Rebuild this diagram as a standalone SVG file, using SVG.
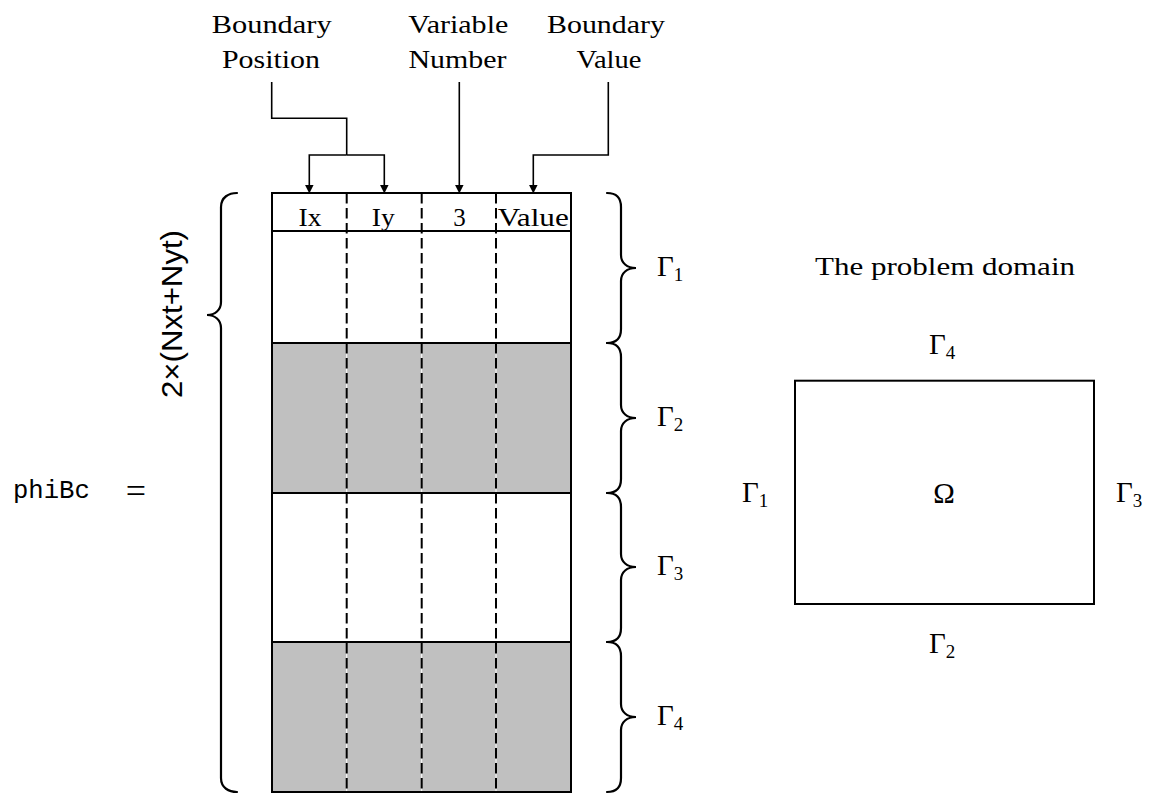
<svg xmlns="http://www.w3.org/2000/svg" width="1149" height="795" viewBox="0 0 1149 795">
<style>
.serif{font-family:"Liberation Serif","DejaVu Serif",serif;fill:#000}
.lbl{font-size:26px}
.hdr{font-size:25px}
.gam{font-size:29px}
.sub{font-size:19px}
.mono{font-family:"Liberation Mono","DejaVu Sans Mono",monospace;font-size:25.6px}
.sans{font-family:"Liberation Sans","DejaVu Sans",sans-serif;font-size:30px}
.frame{fill:none;stroke:#000;stroke-width:2}
.gray{fill:#c0c0c0;stroke:none}
.dash{stroke:#000;stroke-width:2;stroke-dasharray:10.5 4.5}
.wline{stroke:#fff;stroke-width:1}
.brace{fill:none;stroke:#000;stroke-width:2.2;stroke-linecap:round}
.conn{fill:none;stroke:#000;stroke-width:1.6}
</style>
<defs>
<marker id="arr" markerUnits="userSpaceOnUse" markerWidth="10" markerHeight="10" viewBox="0 -4 8 8" refX="1" refY="0" orient="auto">
<path d="M0,-3.5 L7,0 L0,3.5 Z" fill="#000"/>
</marker>
</defs>
<rect width="1149" height="795" fill="#fff"/>

<g id="labels-top">
<text class="serif lbl" x="271.7" y="33" text-anchor="middle" textLength="120" lengthAdjust="spacingAndGlyphs">Boundary</text>
<text class="serif lbl" x="271" y="68" text-anchor="middle" textLength="98" lengthAdjust="spacingAndGlyphs">Position</text>
<text class="serif lbl" x="458.3" y="33" text-anchor="middle" textLength="100" lengthAdjust="spacingAndGlyphs">Variable</text>
<text class="serif lbl" x="457.5" y="68" text-anchor="middle" textLength="98" lengthAdjust="spacingAndGlyphs">Number</text>
<text class="serif lbl" x="606" y="33" text-anchor="middle" textLength="118" lengthAdjust="spacingAndGlyphs">Boundary</text>
<text class="serif lbl" x="609" y="68" text-anchor="middle" textLength="65" lengthAdjust="spacingAndGlyphs">Value</text>
</g>

<g id="connectors">
<path class="conn" d="M271.7,82 V118.3 H346.7 V155"/>
<path class="conn" d="M346.7,155 H309.3 V186" marker-end="url(#arr)"/>
<path class="conn" d="M346.7,155 H384.3 V186" marker-end="url(#arr)"/>
<path class="conn" d="M459.3,82 V186" marker-end="url(#arr)"/>
<path class="conn" d="M608.3,82 V155 H533.3 V186" marker-end="url(#arr)"/>
</g>

<g id="table">
<rect class="gray" x="272" y="343" width="299" height="150"/>
<rect class="gray" x="272" y="642" width="299" height="150"/>
<line class="wline" x1="346.7" y1="193" x2="346.7" y2="792"/>
<line class="wline" x1="421.7" y1="193" x2="421.7" y2="792"/>
<line class="wline" x1="496" y1="193" x2="496" y2="792"/>
<line class="dash" x1="346.7" y1="193" x2="346.7" y2="792"/>
<line class="dash" x1="421.7" y1="193" x2="421.7" y2="792"/>
<line class="dash" x1="496" y1="193" x2="496" y2="792"/>
<line class="frame" x1="272" y1="231" x2="571" y2="231"/>
<line class="frame" x1="272" y1="343" x2="571" y2="343"/>
<line class="frame" x1="272" y1="493" x2="571" y2="493"/>
<line class="frame" x1="272" y1="642" x2="571" y2="642"/>
<rect class="frame" x="272" y="193" width="299" height="599"/>
<text class="serif hdr" x="310" y="226" text-anchor="middle" textLength="23" lengthAdjust="spacingAndGlyphs">Ix</text>
<text class="serif hdr" x="383.3" y="226" text-anchor="middle" textLength="23" lengthAdjust="spacingAndGlyphs">Iy</text>
<text class="serif hdr" x="459.5" y="226" text-anchor="middle">3</text>
<text class="serif hdr" x="533.3" y="226" text-anchor="middle" textLength="71" lengthAdjust="spacingAndGlyphs">Value</text>
</g>

<g id="left-brace">
<path class="brace" d="M237,193 C229,193 221,197 221,207 L221,302 C221,310 215,315 207,315 C215,315 221,320 221,328 L221,778 C221,788 229,792 237,792"/>
<text class="sans" transform="translate(182,314) rotate(-90)" text-anchor="middle" textLength="168" lengthAdjust="spacingAndGlyphs">2×(Nxt+Nyt)</text>
</g>

<g id="phiBc">
<text class="mono" x="13" y="498">phiBc</text>
<text class="serif" x="136" y="503" font-size="36" text-anchor="middle">=</text>
</g>

<g id="right-braces">
<path class="brace" d="M607,193 C615,193 621,197 621,207 L621,255 C621,263 627,268 636,268 C627,268 621,273 621,281 L621,329 C621,339 615,343 607,343"/>
<path class="brace" d="M607,343 C615,343 621,347 621,357 L621,405 C621,413 627,418 636,418 C627,418 621,423 621,431 L621,479 C621,489 615,493 607,493"/>
<path class="brace" d="M607,493 C615,493 621,497 621,507 L621,554 C621,562 627,567 636,567 C627,567 621,572 621,580 L621,628 C621,638 615,642 607,642"/>
<path class="brace" d="M607,642 C615,642 621,646 621,656 L621,704 C621,712 627,717 636,717 C627,717 621,722 621,730 L621,778 C621,788 615,792 607,792"/>
<text class="serif gam" x="657" y="276">Γ<tspan class="sub" dy="5">1</tspan></text>
<text class="serif gam" x="657" y="426">Γ<tspan class="sub" dy="5">2</tspan></text>
<text class="serif gam" x="657" y="575">Γ<tspan class="sub" dy="5">3</tspan></text>
<text class="serif gam" x="657" y="725">Γ<tspan class="sub" dy="5">4</tspan></text>
</g>

<g id="domain">
<text class="serif lbl" x="945" y="275" text-anchor="middle" textLength="260" lengthAdjust="spacingAndGlyphs">The problem domain</text>
<rect class="frame" x="795" y="380.7" width="299" height="223.3"/>
<text class="serif gam" x="929" y="354">Γ<tspan class="sub" dy="5">4</tspan></text>
<text class="serif gam" x="929" y="653">Γ<tspan class="sub" dy="5">2</tspan></text>
<text class="serif gam" x="742" y="502">Γ<tspan class="sub" dy="5">1</tspan></text>
<text class="serif gam" x="1116" y="502">Γ<tspan class="sub" dy="5">3</tspan></text>
<text class="serif gam" x="944" y="503" text-anchor="middle">Ω</text>
</g>
</svg>
